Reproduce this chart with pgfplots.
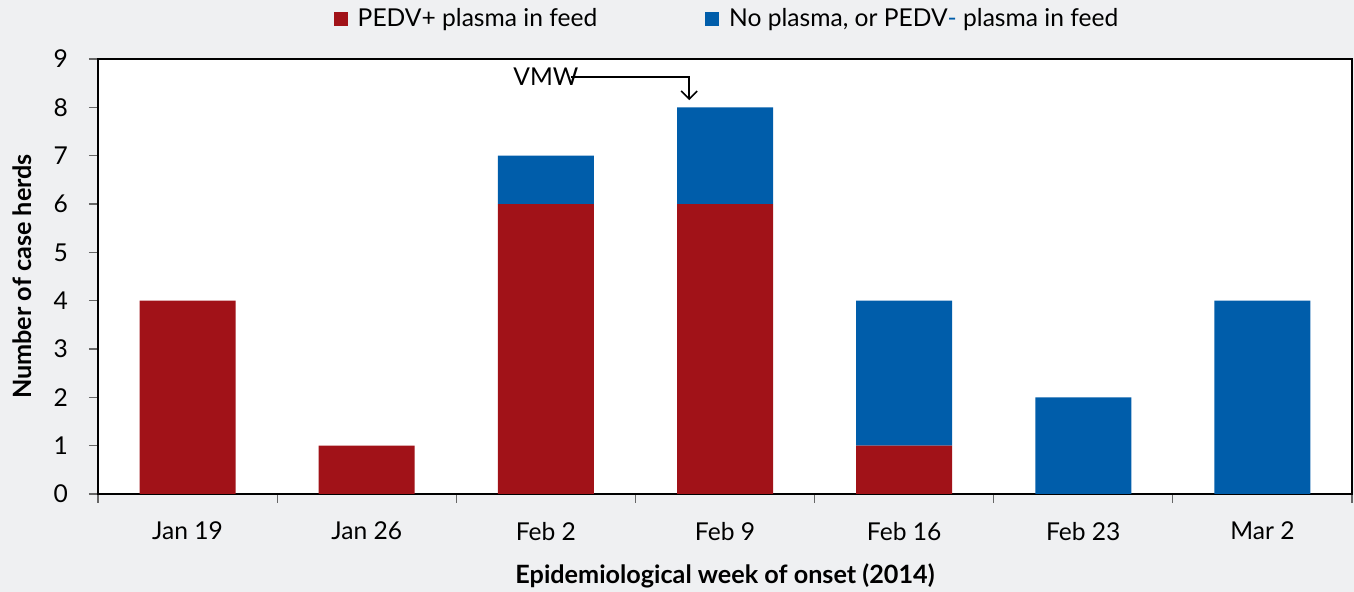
\documentclass[border=0pt]{standalone}
\usepackage{pgfplots}
\pgfplotsset{compat=1.18}
\usepackage{fontspec}
\setmainfont{Lato}
\usetikzlibrary{arrows.meta}
\definecolor{bgc}{HTML}{EFF0F2}
\definecolor{redc}{HTML}{A11218}
\definecolor{bluec}{HTML}{005DAA}
\begin{document}
\begin{tikzpicture}[font=\fontsize{12.3}{14}\selectfont]
\fill[bgc] (-49pt,-49pt) rectangle (628pt,247pt);
\begin{axis}[
  scale only axis, width=627pt, height=217.5pt,
  at={(0,0)}, anchor=south west,
  ybar stacked, bar width=48pt,
  xmin=-0.5, xmax=6.5, ymin=0, ymax=9,
  xtick={0,...,6},
  xticklabels={Jan 19,Jan 26,Feb 2,Feb 9,Feb 16,Feb 23,Mar 2},
  major x tick style={draw=none},
  minor xtick={-0.5,0.5,...,6.5},
  minor x tick style={draw=black!60, line width=0.6pt},
  minor tick length=4.5pt,
  ytick={0,...,9},
  major tick length=4.5pt,
  tick align=outside,
  xtick pos=bottom, ytick pos=left,
  y tick style={draw=black!60, line width=0.6pt},
  /pgf/number format/assume math mode=true,
  axis background/.style={fill=white},
  axis line style={line width=0.6pt},
  xticklabel style={yshift=-6pt},
  yticklabel style={anchor=east, xshift=-7pt},
  every axis x label/.style={at={(axis description cs:0.5,0)}, yshift=-41pt, anchor=center, font=\fontsize{12.6}{14}\selectfont\bfseries},
  every axis y label/.style={at={(axis description cs:0,0.5)}, xshift=-38pt, rotate=90, anchor=center, font=\fontsize{12.6}{14}\selectfont\bfseries},
  xlabel={Epidemiological week of onset (2014)},
  ylabel={Number of case herds},
  legend columns=2,
  legend cell align=left,
  legend style={at={(0.5024,1)}, anchor=center, yshift=20pt, draw=none, fill=none,
    /tikz/every even column/.append style={column sep=52pt}},
  legend image code/.code={\fill[#1] (0pt,-3.5pt) rectangle (7pt,3.5pt); \path (10pt,0pt);},
]
\addplot[fill=redc, draw=none] coordinates {(0,4) (1,1) (2,6) (3,6) (4,1) (5,0) (6,0)};
\addlegendentry{PEDV+ plasma in feed}
\addplot[fill=bluec, draw=none] coordinates {(0,0) (1,0) (2,1) (3,2) (4,3) (5,2) (6,4)};
\addlegendentry{No plasma, or PEDV{\color{bluec}-} plasma in feed}
\node[anchor=center] at (axis cs:2.0,8.63) {VMW};
\draw[line width=0.8pt, -{Straight Barb[length=4pt,width=8pt]}] (axis cs:2.14,8.63) -| (axis cs:2.80,8.15);
\end{axis}
\pgfresetboundingbox
\useasboundingbox (-49pt,-49pt) rectangle (628pt,247pt);
\end{tikzpicture}
\end{document}
